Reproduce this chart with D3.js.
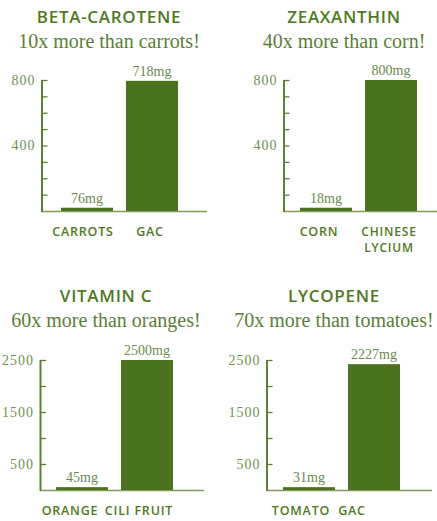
<!DOCTYPE html>
<html>
<head>
<meta charset="utf-8">
<script src="https://cdn.jsdelivr.net/npm/d3@7/dist/d3.min.js"></script>
<style>
  html, body { margin: 0; padding: 0; background: #ffffff; }
  svg { display: block; }
  .title { font-family: "Open Sans", sans-serif; font-weight: 600; font-size: 17px; fill: #4e7a22; letter-spacing: 0.7px; }
  .subtitle { font-family: "Liberation Serif", serif; font-size: 20px; fill: #5a7f36; font-variant-numeric: oldstyle-nums; }
  .cat { font-family: "Open Sans", sans-serif; font-weight: 600; font-size: 12.5px; fill: #4e7a22; letter-spacing: 0.8px; }
  .cat.small { font-size: 12px; }
  .val { font-family: "Liberation Serif", serif; font-size: 14px; fill: #6a8a4c; font-variant-numeric: oldstyle-nums; }
  .tick text { font-family: "Liberation Serif", serif; font-size: 14px; fill: #6f8f54; letter-spacing: 1px; font-variant-numeric: oldstyle-nums; }
</style>
</head>
<body>
<svg id="chart" width="437" height="521"></svg>
<script>
// ---- data ----
const titles = ["BETA-CAROTENE", "ZEAXANTHIN", "VITAMIN C", "LYCOPENE"];
const subtitles = ["10x more than carrots!", "40x more than corn!", "60x more than oranges!", "70x more than tomatoes!"];
const categories = [["CARROTS", "GAC"], ["CORN", "CHINESE LYCIUM"], ["ORANGE", "CILI FRUIT"], ["TOMATO", "GAC"]];
const amounts = [[76, 718], [18, 800], [45, 2500], [31, 2227]];          // printed amounts (mg)
const barLevels = [[20, 795], [20, 800], [55, 2500], [55, 2420]];      // bar heights as drawn, in axis units
const axisMax = [800, 800, 2500, 2500];
const majorTicks = [[400, 800], [400, 800], [500, 1500, 2500], [500, 1500, 2500]];
const minorTicks = [
  [100, 200, 300, 400, 500, 600, 700, 800],
  [100, 200, 300, 400, 500, 600, 700, 800],
  [500, 1000, 1500, 2000, 2500],
  [500, 1000, 1500, 2000, 2500]
];

// ---- layout ----
const layout = [
  { cx: 109, tY: 23, sY: 48, ax: 41.5, y0: 211, yTop: 80, bx: 61, end: 207, catDx: [-4, -2] },
  { cx: 344, tY: 23, sY: 48, ax: 283.5, y0: 211, yTop: 80, bx: 300, end: 437, catDx: [-7, -2] },
  { cx: 106, tY: 302, sY: 327, ax: 40, y0: 490, yTop: 360, bx: 56, end: 204, catDx: [-12, -8] },
  { cx: 334, tY: 302, sY: 327, ax: 266.5, y0: 490, yTop: 360, bx: 283, end: 432, catDx: [-8, -22] }
];

const svg = d3.select("#chart");
const barColor = "#4b721e";
const axisColor = "#5f8034";
const baseColor = "#7f9c58";

layout.forEach((L, i) => {
  const g = svg.append("g");
  const y = d3.scaleLinear().domain([0, axisMax[i]]).range([L.y0, L.yTop]);
  const x = d3.scaleBand().domain(categories[i]).range([L.bx, L.bx + 117]).paddingInner(0.2).paddingOuter(0);

  g.append("text").attr("class", "title").attr("x", L.cx).attr("y", L.tY)
    .attr("text-anchor", "middle").text(titles[i]);
  g.append("text").attr("class", "subtitle").attr("x", L.cx).attr("y", L.sY)
    .attr("text-anchor", "middle").text(subtitles[i]);

  // baseline
  g.append("line").attr("x1", L.ax).attr("x2", L.end).attr("y1", L.y0 + 0.5).attr("y2", L.y0 + 0.5)
    .attr("stroke", baseColor).attr("stroke-width", 1.6);

  // bars
  g.selectAll("rect.bar").data(categories[i]).enter().append("rect")
    .attr("class", "bar")
    .attr("x", d => x(d))
    .attr("width", x.bandwidth())
    .attr("y", (d, j) => y(barLevels[i][j]))
    .attr("height", (d, j) => y(0) - y(barLevels[i][j]))
    .attr("fill", barColor);

  // value labels
  g.selectAll("text.val").data(categories[i]).enter().append("text")
    .attr("class", "val")
    .attr("x", d => x(d) + x.bandwidth() / 2)
    .attr("y", (d, j) => y(barLevels[i][j]) - 5)
    .attr("text-anchor", "middle")
    .text((d, j) => amounts[i][j] + "mg");

  // category labels (CHINESE LYCIUM wraps onto two lines)
  categories[i].forEach((c, j) => {
    const wrap = c === "CHINESE LYCIUM";
    const lines = wrap ? c.split(" ") : [c];
    lines.forEach((ln, k) => {
      g.append("text").attr("class", wrap ? "cat small" : "cat")
        .attr("x", x(c) + x.bandwidth() / 2 + L.catDx[j])
        .attr("y", L.y0 + 25 + k * 15.5)
        .attr("text-anchor", "middle")
        .text(ln);
    });
  });

  // y axis tick marks
  const axT = g.append("g").attr("transform", `translate(${L.ax},0)`)
    .call(d3.axisRight(y).tickValues(minorTicks[i]).tickSize(6).tickSizeOuter(0).tickFormat(""));
  axT.selectAll("line").attr("stroke", axisColor).attr("stroke-width", 1.3);
  axT.select(".domain").attr("stroke", axisColor).attr("stroke-width", 2)
    .attr("d", `M0.5,${L.y0 + 1}V${L.yTop}`);

  // y axis labels
  const axL = g.append("g").attr("transform", `translate(${L.ax},0)`)
    .call(d3.axisLeft(y).tickValues(majorTicks[i]).tickSize(0).tickPadding(6).tickFormat(d3.format("d")));
  axL.select(".domain").remove();
  axL.selectAll("text").attr("dy", "0.32em");
});
</script>
</body>
</html>
